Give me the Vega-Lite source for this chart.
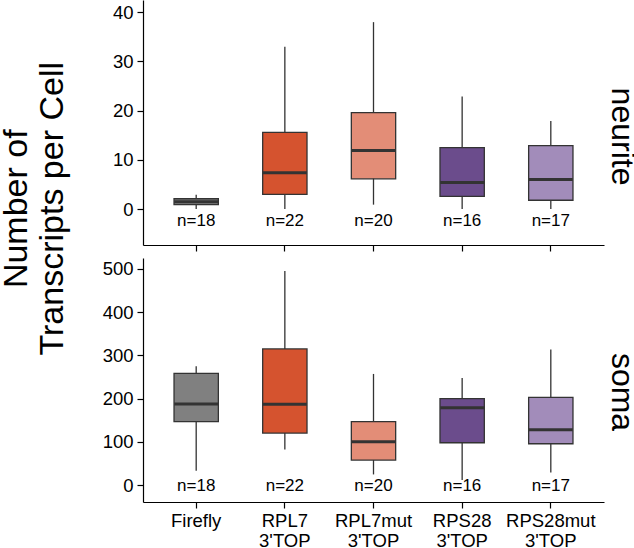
{
  "$schema": "https://vega.github.io/schema/vega-lite/v6.json",
  "padding": 0,
  "background": "white",
  "title": {"text": ["Number of", "Transcripts per Cell"], "orient": "left", "anchor": "middle", "font": "Liberation Sans", "fontSize": 34, "fontWeight": "normal", "color": "black", "lineHeight": 36, "offset": 32, "dx": 66},
  "datasets": {
    "boxes": [
      {"panel": "neurite", "group": "Firefly", "lo": 0, "q1": 0.9, "med": 1.5, "q3": 2.1, "hi": 2.9, "label": "n=18"},
      {"panel": "neurite", "group": "RPL7 3'TOP", "lo": 0, "q1": 3.0, "med": 7.4, "q3": 15.6, "hi": 33, "label": "n=22"},
      {"panel": "neurite", "group": "RPL7mut 3'TOP", "lo": 0.9, "q1": 6.15, "med": 11.9, "q3": 19.6, "hi": 38, "label": "n=20"},
      {"panel": "neurite", "group": "RPS28 3'TOP", "lo": 0, "q1": 2.6, "med": 5.4, "q3": 12.5, "hi": 22.9, "label": "n=16"},
      {"panel": "neurite", "group": "RPS28mut 3'TOP", "lo": 0, "q1": 1.8, "med": 6.0, "q3": 12.9, "hi": 17.9, "label": "n=17"},
      {"panel": "soma", "group": "Firefly", "lo": 33, "q1": 147, "med": 187.5, "q3": 258.5, "hi": 274.7, "label": "n=18"},
      {"panel": "soma", "group": "RPL7 3'TOP", "lo": 82.6, "q1": 120.4, "med": 186.8, "q3": 314.8, "hi": 495, "label": "n=22"},
      {"panel": "soma", "group": "RPL7mut 3'TOP", "lo": 24.7, "q1": 57.9, "med": 100.3, "q3": 146.6, "hi": 257, "label": "n=20"},
      {"panel": "soma", "group": "RPS28 3'TOP", "lo": 11.6, "q1": 98, "med": 179, "q3": 199.8, "hi": 247.7, "label": "n=16"},
      {"panel": "soma", "group": "RPS28mut 3'TOP", "lo": 29.3, "q1": 95.7, "med": 128, "q3": 203, "hi": 313.3, "label": "n=17"}
    ]
  },
  "spacing": 6,
  "vconcat": [
    {
      "width": 461,
      "height": 245,
      "data": {"name": "boxes"},
      "transform": [{"filter": "datum.panel === 'neurite'"}],
      "title": {"text": "neurite", "orient": "right", "anchor": "middle", "font": "Liberation Sans", "fontSize": 32, "fontWeight": "normal", "color": "black", "offset": 1, "dx": 14},
      "encoding": {
        "x": {"field": "group", "type": "nominal", "sort": ["Firefly", "RPL7 3'TOP", "RPL7mut 3'TOP", "RPS28 3'TOP", "RPS28mut 3'TOP"], "scale": {"paddingInner": 0.5, "paddingOuter": 0.35}, "axis": {"title": null, "labels": false, "ticks": true, "labelAngle": 0}}
      },
      "layer": [
        {"mark": {"type": "rule", "color": "#333333", "strokeWidth": 1.3},
         "encoding": {"y": {"field": "lo", "type": "quantitative", "scale": {"domain": [-7.3, 42.5], "nice": false, "zero": false}, "axis": {"title": null, "values": [0, 10, 20, 30, 40]}}, "y2": {"field": "hi"}}},
        {"mark": {"type": "bar", "stroke": "#333333", "strokeWidth": 1.3},
         "encoding": {"y": {"field": "q1", "type": "quantitative"}, "y2": {"field": "q3"},
           "color": {"field": "group", "type": "nominal", "scale": {"domain": ["Firefly", "RPL7 3'TOP", "RPL7mut 3'TOP", "RPS28 3'TOP", "RPS28mut 3'TOP"], "range": ["#808080", "#d5532f", "#e38d77", "#6b4c8c", "#a28cba"]}, "legend": null}}},
        {"mark": {"type": "tick", "color": "#333333", "thickness": 3, "size": 44, "opacity": 1},
         "encoding": {"y": {"field": "med", "type": "quantitative"}}},
        {"mark": {"type": "text", "font": "Liberation Sans", "fontSize": 17, "color": "black", "baseline": "middle"},
         "encoding": {"y": {"datum": -2.4}, "text": {"field": "label"}}}
      ]
    },
    {
      "width": 461,
      "height": 244,
      "data": {"name": "boxes"},
      "transform": [{"filter": "datum.panel === 'soma'"}],
      "title": {"text": "soma", "orient": "right", "anchor": "middle", "font": "Liberation Sans", "fontSize": 32, "fontWeight": "normal", "color": "black", "offset": 1, "dx": 12},
      "encoding": {
        "x": {"field": "group", "type": "nominal", "sort": ["Firefly", "RPL7 3'TOP", "RPL7mut 3'TOP", "RPS28 3'TOP", "RPS28mut 3'TOP"], "scale": {"paddingInner": 0.5, "paddingOuter": 0.35}, "axis": {"title": null, "labelAngle": 0, "labelExpr": "split(datum.label, ' ')", "labelLineHeight": 20, "labelFontSize": 18.5, "labelPadding": 3}}
      },
      "layer": [
        {"mark": {"type": "rule", "color": "#333333", "strokeWidth": 1.3},
         "encoding": {"y": {"field": "lo", "type": "quantitative", "scale": {"domain": [-39, 525], "nice": false, "zero": false}, "axis": {"title": null, "values": [0, 100, 200, 300, 400, 500]}}, "y2": {"field": "hi"}}},
        {"mark": {"type": "bar", "stroke": "#333333", "strokeWidth": 1.3},
         "encoding": {"y": {"field": "q1", "type": "quantitative"}, "y2": {"field": "q3"},
           "color": {"field": "group", "type": "nominal", "scale": {"domain": ["Firefly", "RPL7 3'TOP", "RPL7mut 3'TOP", "RPS28 3'TOP", "RPS28mut 3'TOP"], "range": ["#808080", "#d5532f", "#e38d77", "#6b4c8c", "#a28cba"]}, "legend": null}}},
        {"mark": {"type": "tick", "color": "#333333", "thickness": 3, "size": 44, "opacity": 1},
         "encoding": {"y": {"field": "med", "type": "quantitative"}}},
        {"mark": {"type": "text", "font": "Liberation Sans", "fontSize": 17, "color": "black", "baseline": "middle"},
         "encoding": {"y": {"datum": -2.5}, "text": {"field": "label"}}}
      ]
    }
  ],
  "config": {
    "view": {"stroke": null},
    "axis": {"grid": false, "domainColor": "black", "tickColor": "black", "labelColor": "black", "labelFont": "Liberation Sans", "labelFontSize": 18.5, "tickSize": 6, "domainWidth": 1.2, "tickWidth": 1.2, "labelPadding": 4}
  }
}
